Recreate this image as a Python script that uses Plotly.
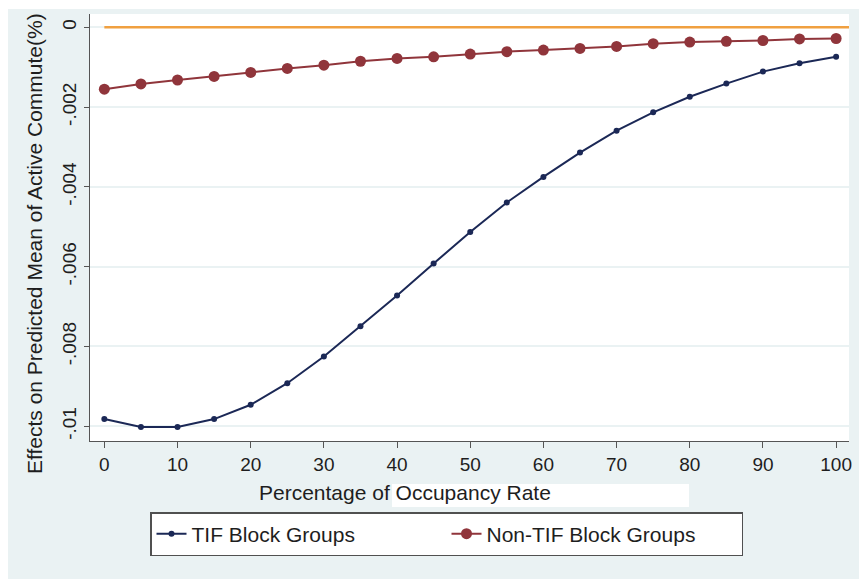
import plotly.graph_objects as go

occupancy = [0, 5, 10, 15, 20, 25, 30, 35, 40, 45, 50, 55, 60, 65, 70, 75, 80, 85, 90, 95, 100]
tif = [-0.00982, -0.01002, -0.01002, -0.00982, -0.00946, -0.00892, -0.00825, -0.00749, -0.00672,
       -0.00592, -0.00513, -0.00439, -0.00375, -0.00314, -0.00259, -0.00213, -0.00174, -0.00141,
       -0.00111, -0.00090, -0.00074]
non_tif = [-0.00155, -0.00142, -0.00132, -0.00123, -0.00113, -0.00103, -0.00095, -0.00085, -0.00078,
           -0.00074, -0.00067, -0.00061, -0.00057, -0.00053, -0.00048, -0.00041, -0.00037, -0.00035,
           -0.00033, -0.00029, -0.00028]
zero_x = [0, 101.76]
zero_y = [0, 0]
y_ticks = [0, -0.002, -0.004, -0.006, -0.008, -0.01]
y_ticklabels = ["0", "-.002", "-.004", "-.006", "-.008", "-.01"]
x_ticks = [0, 10, 20, 30, 40, 50, 60, 70, 80, 90, 100]
x_range = [-1.96, 101.76]
y_range = [-0.010369, 0.000334]

NAVY = "#1b2856"
MAROON = "#90353b"
ORANGE = "#f0a040"
BG = "#eaf2f3"
TXT = "#1e1e1e"
FONT = "Liberation Sans, Arial, sans-serif"

PW, PH = 759, 427  # plot area size in px

fig = go.Figure()
fig.add_trace(go.Scatter(x=zero_x, y=zero_y, mode="lines", showlegend=False, hoverinfo="skip",
                         line=dict(color=ORANGE, width=2.5)))
fig.add_trace(go.Scatter(
    x=occupancy, y=tif, mode="lines+markers", name="TIF Block Groups",
    line=dict(color=NAVY, width=2), marker=dict(color=NAVY, size=6, symbol="circle")))
fig.add_trace(go.Scatter(
    x=occupancy, y=non_tif, mode="lines+markers", name="Non-TIF Block Groups",
    line=dict(color=MAROON, width=2), marker=dict(color=MAROON, size=11, symbol="circle")))

# whited-out box after the x title (as in the source image)
fig.add_shape(type="rect", xref="paper", yref="paper",
              x0=(392 - 90) / PW, x1=(689 - 90) / PW,
              y0=-(507 - 441) / PH, y1=-(484 - 441) / PH,
              fillcolor="white", line=dict(width=0), layer="below")
# white strips on the left/top of the graph region
fig.add_shape(type="rect", xref="paper", yref="paper",
              x0=-90 / PW, x1=-82 / PW, y0=-138 / PH, y1=(PH + 14) / PH,
              fillcolor="white", line=dict(width=0), layer="below")
fig.add_shape(type="rect", xref="paper", yref="paper",
              x0=-90 / PW, x1=(PW + 10) / PW, y0=(PH + 5) / PH, y1=(PH + 14) / PH,
              fillcolor="white", line=dict(width=0), layer="below")

fig.add_annotation(text="Percentage of Occupancy Rate", xref="paper", yref="paper",
                   x=(405 - 90) / PW, y=-(493 - 441) / PH, xanchor="center", yanchor="middle",
                   showarrow=False, font=dict(family=FONT, size=21, color=TXT))
fig.add_annotation(text="Effects on Predicted Mean of Active Commute(%)", xref="paper", yref="paper",
                   x=(35 - 90) / PW, y=(441 - 244) / PH, xanchor="center", yanchor="middle",
                   textangle=-90, showarrow=False, font=dict(family=FONT, size=21, color=TXT))

fig.update_layout(
    width=859, height=579,
    margin=dict(l=90, r=10, t=14, b=138, autoexpand=False),
    paper_bgcolor=BG, plot_bgcolor="white",
    font=dict(family=FONT, color=TXT),
    showlegend=True,
    legend=dict(orientation="h", x=(150 - 90) / PW, y=-(512 - 441) / PH,
                xanchor="left", yanchor="top",
                bgcolor="white", bordercolor="#505050", borderwidth=1.5,
                font=dict(family=FONT, size=21, color=TXT),
                entrywidth=250, entrywidthmode="pixels"),
    xaxis=dict(range=x_range, tickvals=x_ticks, ticks="outside", ticklen=6, tickwidth=1.2,
               tickcolor="#555555", showline=True, linecolor="#555555", linewidth=1.2,
               showgrid=False, zeroline=False, tickfont=dict(size=19, family=FONT, color=TXT)),
    yaxis=dict(range=y_range, tickvals=y_ticks, ticktext=y_ticklabels, ticks="outside", ticklen=5,
               tickwidth=1.2, tickcolor="#555555", showline=True, linecolor="#555555", linewidth=1.2,
               showgrid=True, gridcolor=BG, gridwidth=1.5, zeroline=False, tickangle=-90,
               tickfont=dict(size=19, family=FONT, color=TXT)),
)

fig.write_html("out.html")
